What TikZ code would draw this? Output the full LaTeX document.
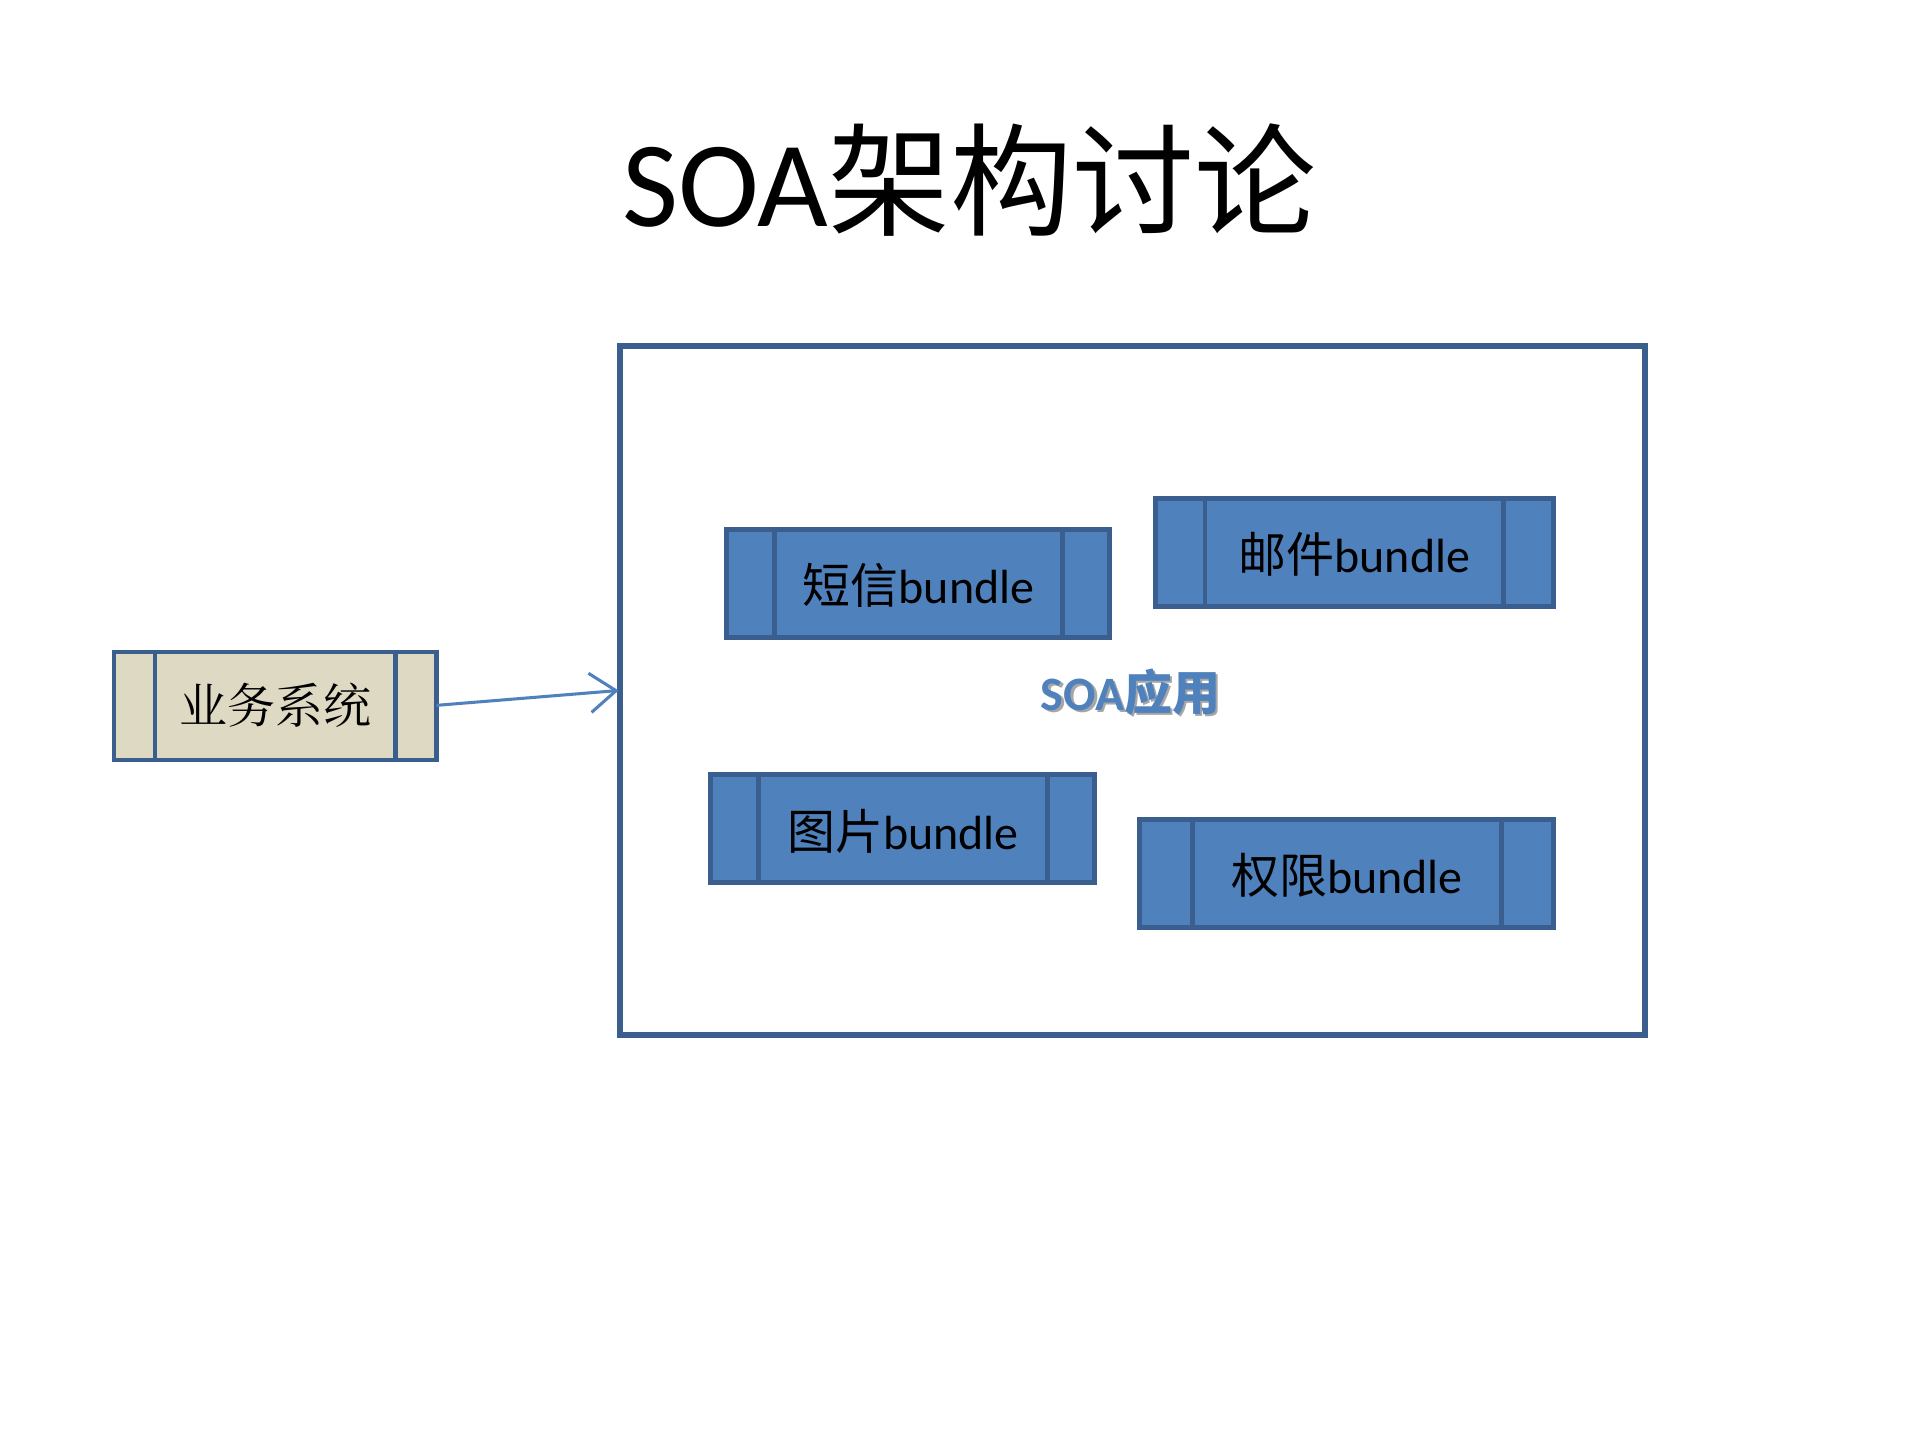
\documentclass[tikz,border=0pt]{standalone}
\usepackage{fontspec}
\setmainfont{Carlito}
\newfontfamily\cjk{Noto Serif CJK SC}
\newfontfamily\cjks{Noto Sans CJK SC}
\usetikzlibrary{arrows.meta}
\definecolor{edge}{HTML}{3A5F8F}
\definecolor{fillb}{HTML}{4F81BD}
\definecolor{beige}{HTML}{DDD9C3}
\tikzset{
  proc/.style={draw=edge,line width=1.1pt,fill=fillb},
  sep/.style={draw=edge,line width=1.1pt},
  lbl/.style={font=\fontsize{11pt}{13pt}\selectfont,text=black}
}
\begin{document}
\begin{tikzpicture}[x=0.01cm,y=-0.01cm]
\useasboundingbox (0,0) rectangle (1548,1161);
\node[font=\fontsize{28pt}{32pt}\selectfont] (title) at (782,145) {SOA{\cjks 架构讨论}};
\draw[edge,line width=1.3pt] (500,279) rectangle (1327,835);
\coordinate (bigw) at (499,557);
\node (app) at (912,558) {};
\node[text=black!35,font=\fontsize{11pt}{13pt}\selectfont\bfseries] at (914,560) {SOA{\cjks\bfseries 应用}};
\node[text=fillb,font=\fontsize{11pt}{13pt}\selectfont\bfseries] at (912,558) {SOA{\cjks\bfseries 应用}};
% business
\draw[sep,fill=beige] (92,526) rectangle (352,613);
\draw[sep] (125,526)--(125,613) (319,526)--(319,613);
\node[lbl] (biz) at (222,569) {\cjk 业务系统};
\coordinate (bizE) at (352,569);
\draw[fillb,line width=0.7pt,-{Straight Barb[length=6pt,width=9pt]}] (bizE) -- (bigw);
% bundles
\foreach \a/\b/\c/\d/\p/\q/\t [count=\i] in {586/427/895/514/625/857/短信,932/402/1253/489/972/1213/邮件,573/625/883/712/612/845/图片,919/661/1253/748/962/1211/权限}{
  \draw[proc] (\a,\b) rectangle (\c,\d);
  \draw[sep] (\p,\b)--(\p,\d) (\q,\b)--(\q,\d);
  \node[lbl] (b\i) at ({(\p+\q)/2},{(\b+\d)/2+2}) {{\cjks\t}bundle};
}
\end{tikzpicture}
\end{document}
